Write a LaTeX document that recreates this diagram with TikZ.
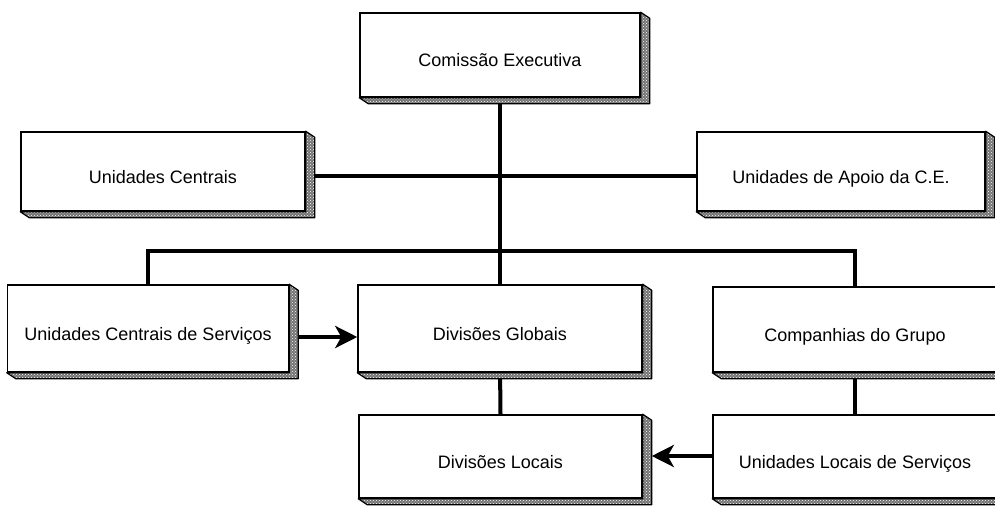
\documentclass[tikz,border=0pt]{standalone}
\usepackage{fontspec}
\setmainfont{Liberation Sans}
\usetikzlibrary{arrows.meta,patterns,backgrounds}
\tikzset{
  orgbox/.style={draw=black, line width=1.5pt, fill=white, rectangle, inner sep=0pt,
    minimum width=284pt, minimum height=84pt, font=\fontsize{18}{20}\selectfont,
    text height=24pt, text depth=0pt},
  bevelfill/.style={fill=black!55},
  beveldots/.style={pattern=crosshatch dots, pattern color=white},
  bevelline/.style={draw=black, line width=1.2pt, line join=round},
  conn/.style={line width=4pt, line cap=rect},
  arr/.style={line width=4pt, -{Stealth[length=22pt,width=22pt,inset=6pt]}}
}
\newcommand\bevel[1]{%
  \fill[bevelfill] (#1.north east) -- ++(9,6) -- ([shift={(9,6)}]#1.south east)
    -- ([shift={(9,6)}]#1.south west) -- (#1.south west) -- (#1.south east) -- cycle;
  \fill[beveldots] (#1.north east) -- ++(9,6) -- ([shift={(9,6)}]#1.south east)
    -- ([shift={(9,6)}]#1.south west) -- (#1.south west) -- (#1.south east) -- cycle;
  \draw[bevelline] (#1.north east) -- ++(9,6) -- ([shift={(9,6)}]#1.south east)
    -- ([shift={(9,6)}]#1.south west) -- (#1.south west) -- (#1.south east) -- cycle;
}
\begin{document}
\begin{tikzpicture}[x=1pt,y=-1pt]
\useasboundingbox (0,0) rectangle (995,508);
\clip (0,0) rectangle (995,508);

\node[orgbox, minimum width=280pt, minimum height=84pt] (ce) at (500,55) {Comissão Executiva};
\node[orgbox, minimum height=79pt] (uc) at (163,171.5) {Unidades Centrais};
\node[orgbox, minimum width=288pt, minimum height=79pt] (ua) at (841,171.5) {Unidades de Apoio da C.E.};
\node[orgbox, minimum width=281pt, minimum height=87pt] (ucs) at (148,328.5) {Unidades Centrais de Serviços};
\node[orgbox, minimum height=87pt] (dg) at (500,328.5) {Divisões Globais};
\node[orgbox, minimum height=85pt] (cg) at (855,329.5) {Companhias do Grupo};
\node[orgbox, minimum width=283pt, minimum height=83pt] (dl) at (500.5,456.5) {Divisões Locais};
\node[orgbox, minimum height=83pt] (uls) at (855,456.5) {Unidades Locais de Serviços};

\foreach \n in {ce,uc,ua,ucs,dg,cg,dl,uls}{\bevel{\n}}

\coordinate (busL) at (ucs.north |- 0,251);
\coordinate (busR) at (cg.north |- 0,251);
\coordinate (midh) at (500,176);

\begin{pgfonlayer}{background}
\fill[white] (0,0) rectangle (995,508);
\draw[conn] ([yshift=6pt]ce.south) -- (dg.north);
\draw[conn] ([xshift=9pt]uc.east |- midh) -- (ua.west |- midh);
\draw[conn, line cap=butt] (ucs.north) -- (busL) -- (busR) -- (cg.north);
\draw[conn] ([yshift=6pt]dg.south) -- (dl.north);
\draw[conn] ([yshift=6pt]cg.south) -- (uls.north);
\end{pgfonlayer}
\draw[arr] ([xshift=9pt]ucs.east |- 0,337) -- (dg.west |- 0,337);
\draw[arr] (uls.west |- 0,456) -- ([xshift=9pt]dl.east |- 0,456);
\end{tikzpicture}
\end{document}
